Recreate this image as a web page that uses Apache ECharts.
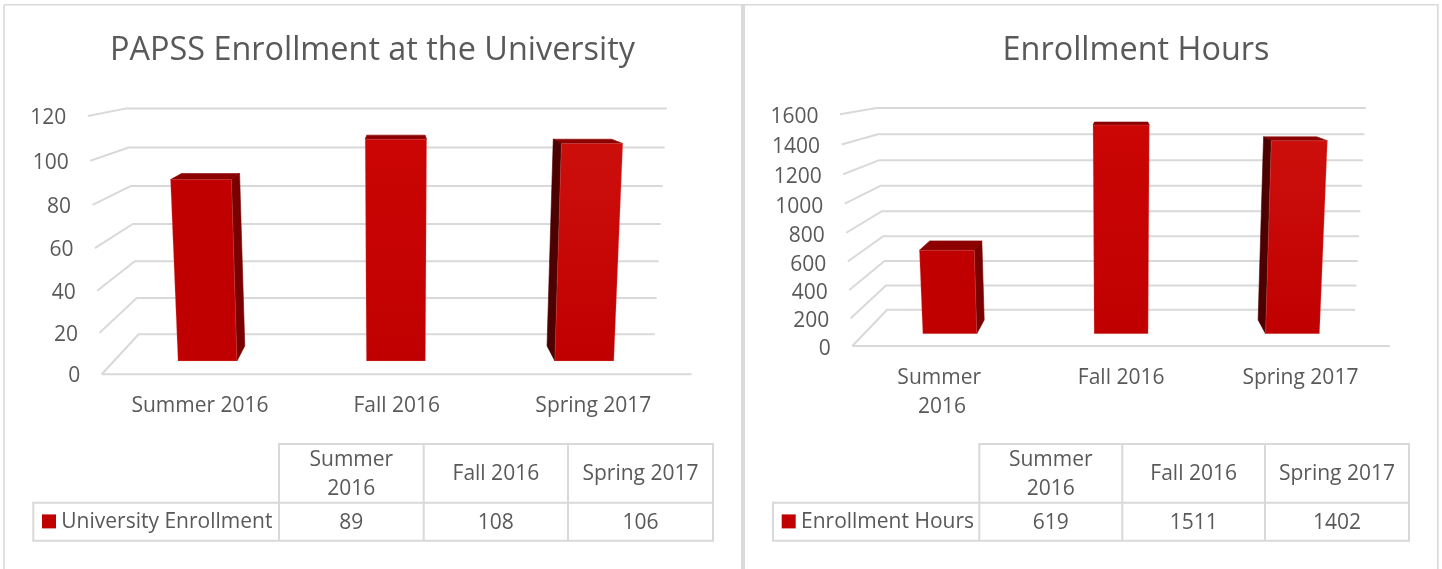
<!DOCTYPE html>
<html><head><meta charset="utf-8">
<style>html,body{margin:0;padding:0;background:#fff}#c{width:1442px;height:569px;filter:blur(0.4px)}</style>
<script src="https://cdn.jsdelivr.net/npm/echarts@6/dist/echarts.min.js"></script>
</head><body><div id="c"></div>
<script>
const categories = ['Summer 2016', 'Fall 2016', 'Spring 2017'];
const enrollmentValues = [89, 108, 106];
const hoursValues = [619, 1511, 1402];
const enrollmentTicks = [0, 20, 40, 60, 80, 100, 120];
const hoursTicks = [0, 200, 400, 600, 800, 1000, 1200, 1400, 1600];
const enrollmentTitle = 'PAPSS Enrollment at the University';
const hoursTitle = 'Enrollment Hours';
const enrollmentSeriesName = 'University Enrollment';
const hoursSeriesName = 'Enrollment Hours';

const FONT = '"Open Sans", sans-serif';
const TEXT = '#595959', LINE = '#d9d9d9', RED = '#c00000';

const views = [
  {left:101.7, width:590, bottom:374.3, top:113.3, yv:55, lean:0.000172, sBack:0.8746, sFront:0.958, sRear:0.911, barW:0.313, dx:-0.8, margin:17, tickDy:2},
  {left:852.3, width:537.7, bottom:346, top:112.2, yv:66, lean:0.000187, sBack:0.8704, sFront:0.956, sRear:0.907, barW:0.315, dx:0, margin:18, tickDy:3}
];

function projector(params, view) {
  const r = params.coordSys;
  const cx = r.x + r.width / 2, y0 = r.y + r.height;
  return (xp, yp, s) => {
    const u = y0 - yp, w = 1 - view.lean * u;
    return [cx + (xp - cx) * s / w, view.yv + (yp - view.yv) * s / w];
  };
}
function wallItem(view) {
  return (params, api) => {
    const v = api.value(0), r = params.coordSys, P = projector(params, view);
    const y = api.coord([0, v])[1];
    const L = r.x, R = r.x + r.width;
    const pts = [P(L, y, 1), P(L, y, view.sBack), P(R, y, view.sBack)];
    const st = {stroke: LINE, lineWidth: 2, fill: null};
    const kids = [{type:'polyline', shape:{points:pts}, style:st}];
    if (v === 0) kids.push({type:'line', shape:{x1:L, y1:y, x2:R, y2:y}, style:st});
    return {type:'group', children:kids};
  };
}
function tickItem(view) {
  return (params, api) => {
    const v = api.value(0), P = projector(params, view);
    const y = api.coord([0, v])[1];
    const p = P(params.coordSys.x, y, 1);
    return {type:'text', style:{text:String(v), x:p[0]-21.5, y:p[1]+view.tickDy, align:'right', verticalAlign:'middle',
      font:'21px ' + FONT, fill:TEXT}};
  };
}
function barItem(view) {
  return (params, api) => {
    const i = api.value(0), v = api.value(1), r = params.coordSys, P0 = projector(params, view);
    const P = (x, y, s) => { const p = P0(x, y, s); return [p[0] + view.dx, p[1]]; };
    const top = api.coord([i, v]), base = api.coord([i, 0]);
    const hw = api.size([1, 0])[0] * view.barW / 2, cx = r.x + r.width / 2;
    const x1 = top[0] - hw, x2 = top[0] + hw;
    const f = view.sFront, b = view.sRear;
    const poly = (pts, fill, stroke) => ({type:'polygon', shape:{points:pts},
      style:{fill, stroke: stroke || fill, lineWidth: 0.6}});
    const kids = [];
    kids.push(poly([P(x1,top[1],f),P(x2,top[1],f),P(x2,top[1],b),P(x1,top[1],b)], '#8c0000'));
    if (top[0] < cx - 1) kids.push(poly([P(x2,base[1],f),P(x2,top[1],f),P(x2,top[1],b),P(x2,base[1],b)], '#7a0000'));
    if (top[0] > cx + 1) kids.push(poly([P(x1,base[1],f),P(x1,top[1],f),P(x1,top[1],b),P(x1,base[1],b)], '#4d0000'));
    const grad = i === 0 ? ['#c00000', '#c00000'] : i === 1 ? ['#cb0604', '#c00000'] : ['#cd0f0c', '#c00000'];
    kids.push({type:'polygon', shape:{points:[P(x1,base[1],f),P(x2,base[1],f),P(x2,top[1],f),P(x1,top[1],f)]},
      style:{fill:new echarts.graphic.LinearGradient(0,0,0,1,[{offset:0,color:grad[0]},{offset:1,color:grad[1]}]),
        stroke:'rgba(236,140,140,0.3)', lineWidth:0.8}});
    return {type:'group', children:kids};
  };
}
function tableGraphics(tb, headers, name, values) {
  const out = [];
  const ln = (x1,y1,x2,y2) => out.push({type:'line', z:5, shape:{x1,y1,x2,y2}, style:{stroke:LINE, lineWidth:2}});
  const tx = (text,x,y,align) => out.push({type:'text', z:6, style:{text, x, y, align:align||'center', verticalAlign:'middle',
    font:'21px ' + FONT, fill:TEXT, lineHeight:29}});
  const [a,b,c,d,e] = tb.xs, [t,m,bt] = tb.ys;
  ln(b-1,t,e+1,t); ln(a-1,m,e+1,m); ln(a-1,bt,e+1,bt);
  ln(a,m,a,bt); [b,c,d,e].forEach(x => ln(x,t,x,bt));
  const xs = [b,c,d,e];
  headers.forEach((h,i) => {
    tx(h, (xs[i]+xs[i+1])/2, (t+m)/2 + 1);
    tx(String(values[i]), (xs[i]+xs[i+1])/2, (m+bt)/2 + 1);
  });
  out.push({type:'rect', z:6, shape:{x:a+8.7, y:(m+bt)/2-7.3, width:14, height:14}, style:{fill:RED}});
  tx(name, a+28, (m+bt)/2 + 0.5, 'left');
  return out;
}
const wrapHead = h => h === categories[0] ? h.replace(' ', '\n') : h;
const frame = [];
const fl = (x1,y1,x2,y2,w) => frame.push({type:'line', shape:{x1,y1,x2,y2}, style:{stroke:LINE, lineWidth:w}});
fl(4,4.7,4,569,1.6); fl(4,4.7,741,4.7,1.6); fl(743,4,743,569,4); fl(745,4.7,1438,4.7,1.6); fl(1437.8,4,1437.8,569,1.6);

const series = [];
[[enrollmentTicks, enrollmentValues],[hoursTicks, hoursValues]].forEach(([ticks, vals], k) => {
  const view = views[k];
  series.push({type:'custom', name:'walls'+k, coordinateSystem:'cartesian2d', xAxisIndex:k, yAxisIndex:k, z:1, silent:true,
    data:ticks.map(t=>[t]), encode:{y:0}, renderItem:wallItem(view)});
  series.push({type:'custom', name:'ticks'+k, coordinateSystem:'cartesian2d', xAxisIndex:k, yAxisIndex:k, z:2, silent:true,
    data:ticks.map(t=>[t]), encode:{y:0}, renderItem:tickItem(view)});
  series.push({type:'custom', name:k?hoursSeriesName:enrollmentSeriesName, coordinateSystem:'cartesian2d', xAxisIndex:k, yAxisIndex:k, z:3, silent:true,
    data:vals.map((v,i)=>[i,v]), encode:{x:0,y:1}, renderItem:barItem(view)});
});
const xAxisOf = (k) => ({type:'category', gridIndex:k, data:categories,
  axisLine:{show:false}, axisTick:{show:false}, splitLine:{show:false},
  axisLabel:{color:TEXT, fontFamily:'"Open Sans", sans-serif', fontSize:21, margin:views[k].margin, lineHeight:29, interval:0,
    width:k?120:190, overflow:k?'break':'none'}});
const yAxisOf = (k, ticks) => ({type:'value', gridIndex:k, min:0, max:ticks[ticks.length-1], interval:ticks[1],
  axisLine:{show:false}, axisTick:{show:false}, axisLabel:{show:false}, splitLine:{show:false}});
const titleStyle = {color:TEXT, fontFamily:'"Open Sans", sans-serif', fontSize:32.4, fontWeight:'normal'};

const chart = echarts.init(document.getElementById('c'), null, {renderer:'canvas', width:1442, height:569});
chart.setOption({
  animation:false, backgroundColor:'#fff',
  title:[
    {text:enrollmentTitle, left:367.5, top:30, textAlign:'center', textStyle:titleStyle},
    {text:hoursTitle, left:1131, top:30, textAlign:'center', textStyle:titleStyle}
  ],
  grid: views.map(v => ({left:v.left, width:v.width, top:v.top, height:v.bottom-v.top})),
  xAxis:[xAxisOf(0), xAxisOf(1)],
  yAxis:[yAxisOf(0, enrollmentTicks), yAxisOf(1, hoursTicks)],
  series,
  graphic: frame
    .concat(tableGraphics({xs:[33.3,279,423.7,568,713], ys:[444,502.7,540.7]}, categories.map(wrapHead), enrollmentSeriesName, enrollmentValues))
    .concat(tableGraphics({xs:[773,979.3,1122.3,1265,1409], ys:[444,502.7,540.7]}, categories.map(wrapHead), hoursSeriesName, hoursValues))
});
</script></body></html>
